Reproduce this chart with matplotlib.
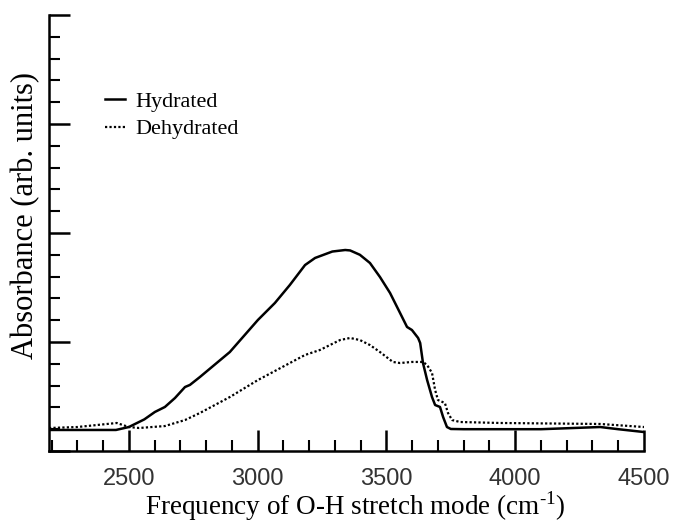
import matplotlib
matplotlib.use("Agg")
import matplotlib.pyplot as plt
from matplotlib.ticker import MultipleLocator

# hydrated sample
hyd_x = [2190, 2450, 2500, 2560, 2601, 2640, 2679, 2718, 2737, 2776, 2892, 3001, 3067,
         3125, 3184, 3223, 3290, 3340, 3359, 3397, 3436, 3475, 3514, 3553, 3580, 3599,
         3623, 3631, 3642, 3658, 3677, 3689, 3708, 3720, 3735, 3750, 3800, 3950, 4100,
         4330, 4400, 4500]
hyd_y = [0.193, 0.193, 0.22, 0.29, 0.358, 0.404, 0.486, 0.587, 0.606, 0.679, 0.908, 1.202, 1.358,
         1.523, 1.706, 1.771, 1.83, 1.844, 1.84, 1.80, 1.725, 1.596, 1.450, 1.266, 1.138, 1.11,
         1.037, 0.991, 0.807, 0.651, 0.495, 0.422, 0.404, 0.312, 0.220, 0.202, 0.20, 0.20, 0.20,
         0.22, 0.20, 0.174]

# dehydrated sample
deh_x = [2190, 2300, 2453, 2500, 2540, 2640, 2718, 2776, 2892, 3001, 3125, 3184, 3242,
         3320, 3359, 3397, 3436, 3475, 3525, 3553, 3599, 3642, 3658, 3677, 3689, 3700,
         3727, 3739, 3755, 3786, 3941, 4330, 4500]
deh_y = [0.211, 0.22, 0.257, 0.22, 0.211, 0.229, 0.284, 0.349, 0.495, 0.651, 0.807, 0.881, 0.927,
         1.018, 1.037, 1.018, 0.972, 0.908, 0.817, 0.807, 0.817, 0.817, 0.789, 0.716, 0.56, 0.468,
         0.44, 0.349, 0.284, 0.266, 0.257, 0.248, 0.220]

xticks = [2500, 3000, 3500, 4000, 4500]

serif = "Liberation Serif"
sans = "Liberation Sans"
plt.rcParams["mathtext.fontset"] = "custom"
plt.rcParams["mathtext.rm"] = serif

fig = plt.figure(figsize=(6.74, 5.24), dpi=100)
ax = fig.add_axes([49/674, 1 - 451/524, (644 - 49)/674, (451 - 15)/524])

ax.plot(hyd_x, hyd_y, color="black", lw=1.8, label="Hydrated")
ax.plot(deh_x, deh_y, color="black", lw=1.6, ls=(0, (1, 1)), label="Dehydrated")

ax.set_xlim(2190, 4500)
ax.set_ylim(0, 4)
ax.set_xticks(xticks)
ax.xaxis.set_minor_locator(MultipleLocator(100))
ax.yaxis.set_major_locator(MultipleLocator(1))
ax.yaxis.set_minor_locator(MultipleLocator(0.2))
ax.set_yticklabels([])

for s in ["top", "right"]:
    ax.spines[s].set_visible(False)
for s in ["left", "bottom"]:
    ax.spines[s].set_linewidth(1.8)

ax.tick_params(axis="both", which="major", direction="in", length=15, width=1.8)
ax.tick_params(axis="both", which="minor", direction="in", length=8, width=1.5)
ax.tick_params(axis="x", which="major", pad=12, labelsize=17)
for lab in ax.get_xticklabels():
    lab.set_fontfamily(sans)
    lab.set_color("#333333")

ax.set_xlabel("Frequency of O-H stretch mode (cm$^{\\text{-1}}$)", fontsize=19.5, family=serif)
ax.xaxis.set_label_coords(0.514, -0.088)
ax.set_ylabel("Absorbance (arb. units)", fontsize=22, family=serif)
ax.yaxis.set_label_coords(-0.014, 0.539)

leg = ax.legend(loc="upper left", bbox_to_anchor=(0.06, 0.87), frameon=False,
                handlelength=0.9, handletextpad=0.5, labelspacing=0.3,
                prop={"family": serif, "size": 16})

fig.savefig("out.png", dpi=100)
